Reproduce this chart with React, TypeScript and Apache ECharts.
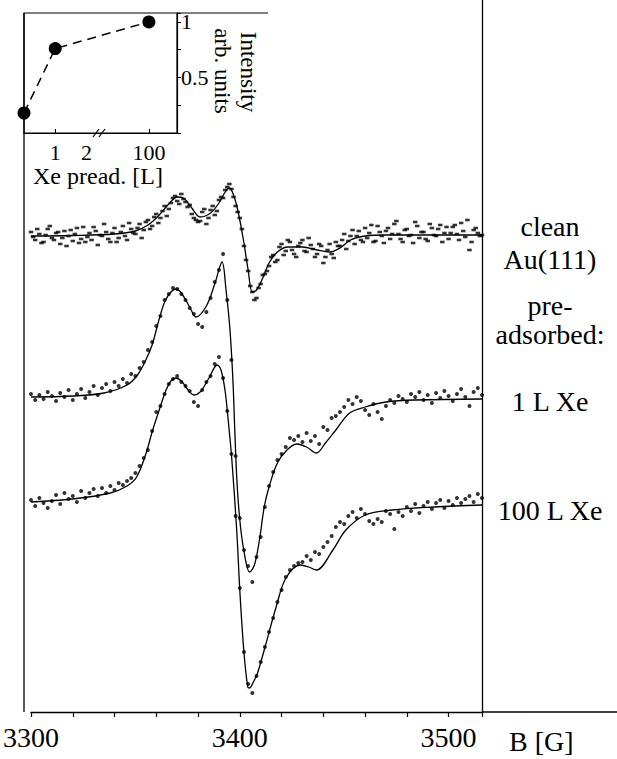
import React, { useEffect, useRef } from "react";
import * as echarts from "echarts";

// ---- main EPR spectra: measured points (field grid step 2 G) ----
const FIELD_START = 3300;
const FIELD_STEP = 2;
const CLEAN_SCAN2_START = 3301;

const cleanPoints = [
  480, 472, 478, 470, 483, 474, 479, 468, 481, 476,
  471, 484, 473, 470, 479, 485, 467, 476, 480, 470,
  484, 474, 486, 472, 483, 478, 488, 482, 492, 486,
  498, 494, 506, 503, 514, 511, 518, 510, 507, 494,
  490, 500, 488, 502, 497, 512, 514, 525, 523, 506,
  494, 466, 441, 420, 414, 428, 438, 446, 457, 452,
  468, 461, 470, 458, 466, 472, 460, 467, 455, 468,
  449, 462, 458, 470, 466, 478, 471, 482, 476, 472,
  484, 479, 470, 486, 476, 481, 473, 488, 478, 470,
  483, 477, 490, 474, 480, 471, 484, 476, 487, 479,
  473, 485, 478, 489, 475, 462, 482, 479, 477,
];

const cleanPointsScan2 = [
  475, 483, 469, 477, 486, 472, 480, 474, 466, 482,
  478, 469, 485, 475, 472, 481, 477, 488, 473, 479,
  470, 480, 476, 489, 479, 484, 474, 490, 483, 495,
  489, 501, 496, 509, 516, 508, 513, 505, 498, 492,
  491, 503, 494, 506, 501, 515, 522, 528, 515, 500,
  483, 452, 426, 412, 424, 437, 441, 455, 450, 465,
  457, 472, 462, 455, 469, 461, 474, 463, 458, 466,
  455, 468, 454, 466, 472, 463, 476, 468, 481, 470,
  474, 487, 471, 480, 469, 484, 478, 491, 473, 482,
  476, 469, 486, 480, 473, 488, 477, 483, 470, 485,
  479, 487, 472, 481, 492, 470, 484, 476,
];

const oneLPoints = [
  318, 312, 317, 313, 320, 316, 311, 319, 315, 322,
  312, 318, 323, 314, 320, 326, 317, 324, 328, 321,
  330, 326, 333, 329, 338, 336, 344, 350, 362, 370,
  386, 396, 412, 418, 424, 423, 418, 412, 404, 398,
  388, 385, 400, 414, 430, 442, 458, 412, 352, 256,
  194, 162, 146, 130, 155, 175, 205, 226, 240, 252,
  258, 265, 274, 272, 276, 270, 279, 271, 276, 268,
  285, 282, 294, 296, 300, 305, 312, 308, 315, 311,
  302, 297, 308, 300, 293, 306, 312, 309, 316, 313,
  310, 318, 315, 320, 312, 317, 309, 319, 314, 321,
  316, 311, 318, 323, 315, 306, 320, 324, 317,
];

const hundredLPoints = [
  212, 206, 214, 209, 204, 211, 217, 208, 219, 213,
  216, 210, 221, 214, 219, 223, 216, 224, 219, 226,
  222, 229, 227, 231, 234, 239, 246, 254, 262, 281,
  300, 306, 318, 328, 333, 336, 330, 326, 321, 310,
  306, 322, 330, 336, 348, 355, 334, 301, 258, 196,
  124, 60, 28, 19, 36, 50, 65, 80, 94, 110,
  122, 135, 142, 146, 149, 150, 156, 152, 160, 158,
  165, 170, 176, 185, 190, 188, 196, 200, 194, 203,
  198, 191, 188, 193, 190, 201, 198, 183, 200, 196,
  205, 201, 208, 199, 206, 210, 203, 209, 212, 204,
  211, 207, 214, 209, 213, 216, 210, 218, 214,
];

// ---- fitted curves ----
const cleanFitB = [3300, 3320, 3340, 3350, 3356, 3361, 3366, 3370, 3373, 3377, 3381, 3386, 3390, 3393, 3395, 3397, 3399, 3401.5, 3404, 3406, 3408, 3411, 3414, 3418, 3423, 3430, 3437, 3443, 3448, 3453, 3460, 3470, 3490, 3516];
const cleanFitI = [476, 476.5, 478, 481, 487, 496, 508, 515, 514, 504, 495, 499, 509, 520, 524, 517, 502, 475, 442, 420, 422, 434, 449, 460, 465, 465, 462, 460, 464, 472, 476, 477, 477, 477];

const oneLFitB = [3300, 3320, 3335, 3346, 3351, 3355, 3358, 3361, 3364, 3367, 3369.5, 3372, 3376, 3379, 3384, 3388, 3391.5, 3393.4, 3395.3, 3396.7, 3397.6, 3398.6, 3400, 3401.9, 3404.7, 3407, 3409.4, 3411.7, 3414, 3418, 3422.6, 3427.3, 3432, 3436.7, 3441, 3446, 3452.6, 3460, 3470, 3484, 3516];
const oneLFitI = [315, 316, 319, 327, 337, 352, 367, 390, 410, 420, 423, 419, 405, 395, 406, 428, 450, 422, 382, 332, 282, 232, 192, 162, 140, 147, 172, 205, 225, 249, 262, 268, 265, 259, 269, 282, 299, 305, 310, 312, 313];

const hundredLFitB = [3300, 3320, 3338, 3346, 3350.6, 3355.3, 3358, 3361.4, 3364.7, 3367, 3369.4, 3372, 3376, 3378, 3381, 3385, 3389.2, 3391, 3392.9, 3394.3, 3396.2, 3398.6, 3400, 3401.9, 3403.8, 3404.7, 3406.5, 3408.5, 3411.7, 3417.4, 3422.1, 3429.1, 3433, 3436.7, 3444.6, 3450.8, 3460.1, 3472.9, 3493.1, 3516];
const hundredLFitI = [210, 213, 219, 226, 235, 260, 280, 302, 322, 331, 334, 331, 320, 317, 320, 333, 347, 342, 322, 295, 252, 179, 122, 62, 25, 24, 30, 39, 62, 105, 134, 147, 145, 142, 162, 182, 197, 202, 205, 207];

const fieldTicks = [3300, 3400, 3500];

// ---- inset: intensity vs Xe pre-adsorption ----
const exposureL = [0, 1, 100];
const intensity = [0.18, 0.76, 1.0];
const insetTickLabels = ["1", "2", "100"];
// broken axis: 0,1,2 linear, then a break, 100 placed at position 4
const brokenAxisPos: Record<string, number> = { "0": 0, "1": 1, "2": 2, "100": 4 };

const SERIF = "Liberation Serif";
const INK = "#000";

const pts = (arr: number[], start = FIELD_START) => arr.map((v, i) => [start + i * FIELD_STEP, v]);
const zip = (a: number[], b: number[]) => a.map((v, i) => [v, b[i]]);

function buildOption(): any {
  const lineStyle = { color: INK, width: 1.3 };
  const rightLabels = [
    { t: "clean", y: 226 },
    { t: "Au(111)", y: 259 },
    { t: "pre-", y: 305 },
    { t: "adsorbed:", y: 334 },
    { t: "1 L Xe", y: 401 },
    { t: "100 L Xe", y: 510 },
  ];
  const txt = (text: string, x: number, y: number, size: number, align = "center", rotation = 0) => ({
    type: "text",
    x,
    y,
    rotation,
    silent: true,
    style: {
      text,
      fill: INK,
      font: `${size}px ${SERIF}`,
      fontSize: size,
      fontFamily: SERIF,
      textAlign: align,
      align,
      textVerticalAlign: "middle",
      verticalAlign: "middle",
    },
  });
  const ln = (x1: number, y1: number, x2: number, y2: number, w = 1.3) => ({
    type: "line",
    silent: true,
    shape: { x1, y1, x2, y2 },
    style: { stroke: INK, lineWidth: w },
  });

  return {
    animation: false,
    backgroundColor: "#fff",
    textStyle: { fontFamily: SERIF },
    grid: [
      { left: 24, right: 135, top: 0, bottom: 47 },
      { left: 24, top: 13, width: 153, height: 120, show: true, borderColor: INK, borderWidth: 1.2, backgroundColor: "transparent" },
    ],
    xAxis: [
      {
        gridIndex: 0,
        type: "value",
        min: 3300,
        max: 3516,
        interval: 20,
        axisLine: { show: true, onZero: false, lineStyle: { color: INK, width: 1.3 } },
        axisTick: { show: true, inside: false, length: 5, lineStyle: { color: INK, width: 1.2 } },
        axisLabel: {
          formatter: (v: number) => (fieldTicks.includes(v) ? String(v) : ""),
          color: INK,
          fontFamily: SERIF,
          fontSize: 28,
          margin: 11,
        },
        splitLine: { show: false },
      },
      {
        gridIndex: 1,
        type: "value",
        min: 0,
        max: 4.9,
        interval: 1,
        axisLine: { show: true, onZero: false, lineStyle: { color: INK, width: 1.2 } },
        axisTick: { show: true, inside: true, length: 4, customValues: [1, 4], lineStyle: { color: INK } },
        axisLabel: {
          formatter: (v: number) => {
            const lab = insetTickLabels.find((l) => brokenAxisPos[l] === v);
            return lab ?? "";
          },
          color: INK,
          fontFamily: SERIF,
          fontSize: 22,
          margin: 8,
        },
        splitLine: { show: false },
      },
    ],
    yAxis: [
      { gridIndex: 0, type: "value", min: 0, max: 712, show: false },
      {
        gridIndex: 0,
        type: "value",
        min: 0,
        max: 712,
        position: "right",
        axisLine: { show: true, onZero: false, lineStyle: { color: INK, width: 1.3 } },
        axisTick: { show: false },
        axisLabel: { show: false },
        splitLine: { show: false },
      },
      {
        gridIndex: 1,
        type: "value",
        min: 0,
        max: 1.08,
        interval: 0.25,
        position: "right",
        axisLine: { show: true, onZero: false, lineStyle: { color: INK, width: 1.2 } },
        axisTick: { show: true, inside: false, length: 4, lineStyle: { color: INK } },
        axisLabel: {
          formatter: (v: number) => (v === 1 ? "1" : v === 0.5 ? "0.5" : ""),
          color: INK,
          fontFamily: SERIF,
          fontSize: 22,
          margin: 4,
        },
        splitLine: { show: false },
      },
    ],
    series: [
      { type: "line", xAxisIndex: 0, yAxisIndex: 0, data: zip(cleanFitB, cleanFitI), smooth: 0.35, symbol: "none", lineStyle, z: 3 },
      { type: "scatter", xAxisIndex: 0, yAxisIndex: 0, data: pts(cleanPoints), symbol: "rect", symbolSize: [4.5, 2.6], itemStyle: { color: INK }, z: 4 },
      { type: "scatter", xAxisIndex: 0, yAxisIndex: 0, data: pts(cleanPointsScan2, CLEAN_SCAN2_START), symbol: "rect", symbolSize: [4.5, 2.6], itemStyle: { color: INK }, z: 4 },
      { type: "line", xAxisIndex: 0, yAxisIndex: 0, data: zip(oneLFitB, oneLFitI), smooth: 0.35, symbol: "none", lineStyle, z: 3 },
      { type: "scatter", xAxisIndex: 0, yAxisIndex: 0, data: pts(oneLPoints), symbol: "circle", symbolSize: 4, itemStyle: { color: INK }, z: 4 },
      { type: "line", xAxisIndex: 0, yAxisIndex: 0, data: zip(hundredLFitB, hundredLFitI), smooth: 0.35, symbol: "none", lineStyle, z: 3 },
      { type: "scatter", xAxisIndex: 0, yAxisIndex: 0, data: pts(hundredLPoints), symbol: "circle", symbolSize: 4, itemStyle: { color: INK }, z: 4 },
      {
        type: "line",
        xAxisIndex: 1,
        yAxisIndex: 2,
        data: exposureL.map((e, i) => [brokenAxisPos[String(e)], intensity[i]]),
        symbol: "circle",
        symbolSize: 13,
        clip: false,
        itemStyle: { color: INK },
        lineStyle: { color: INK, width: 1.5, type: [9, 6] },
        z: 5,
      },
    ],
    graphic: [
      ln(24, 13, 24, 712),
      ln(482, 712, 617, 712),
      ln(177, 13, 268, 13, 1),
      ln(93, 137, 99, 129, 1.2),
      ln(99, 137, 105, 129, 1.2),
      txt("Xe pread. [L]", 98, 176, 24),
      txt("Intensity", 248, 72, 23, "center", -Math.PI / 2),
      txt("arb. units", 222, 71, 23, "center", -Math.PI / 2),
      txt("B [G]", 509, 741, 28, "left"),
      ...rightLabels.map((r) => txt(r.t, 550, r.y, 28)),
    ],
  };
}

export default function App() {
  const ref = useRef<HTMLDivElement>(null);
  useEffect(() => {
    if (!ref.current) return;
    const chart = echarts.init(ref.current, null, { renderer: "svg" });
    chart.setOption(buildOption());
    return () => chart.dispose();
  }, []);
  return (
    <div
      ref={ref}
      style={{ position: "fixed", left: 0, top: 0, width: 617, height: 759, background: "#fff" }}
    />
  );
}
